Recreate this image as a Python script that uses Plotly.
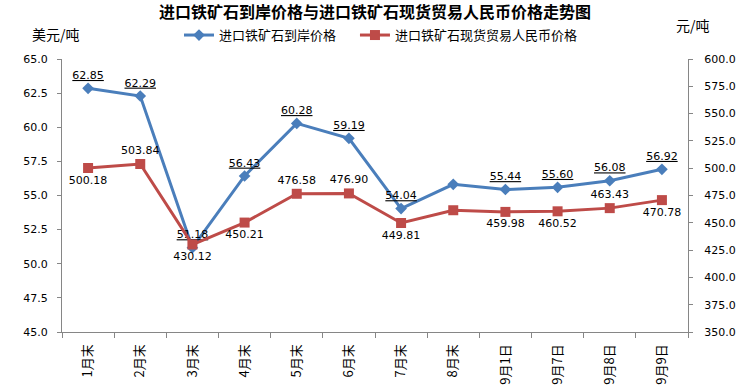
import plotly.graph_objects as go

categories = ["1月末", "2月末", "3月末", "4月末", "5月末", "6月末", "7月末", "8月末",
              "9月1日", "9月7日", "9月8日", "9月9日"]
usd_price = [62.85, 62.29, 51.18, 56.43, 60.28, 59.19, 54.04, 55.82, 55.44, 55.60, 56.08, 56.92]
rmb_price = [500.18, 503.84, 430.12, 450.21, 476.58, 476.90, 449.81, 461.5, 459.98, 460.52, 463.43, 470.78]
usd_labeled = [True] * 7 + [False] + [True] * 4
rmb_labeled = [True] * 7 + [False] + [True] * 4
rmb_label_pos = ["bottom center", "top center", "bottom center", "bottom center", "top center",
                 "top center", "bottom center", "bottom center", "bottom center", "bottom center",
                 "top center", "bottom center"]

BLUE = "#4A7EBB"
RED = "#BE4B48"
AX = "#868686"
FONT = "Noto Sans CJK SC"
NUMFONT = "DejaVu Sans"

usd_text = [f"<u>{v:.2f}</u>" if s else "" for v, s in zip(usd_price, usd_labeled)]
rmb_text = [f"{v:.2f}" if s else "" for v, s in zip(rmb_price, rmb_labeled)]

fig = go.Figure()
fig.add_trace(go.Scatter(
    x=categories, y=usd_price, name="进口铁矿石到岸价格", mode="lines+markers+text",
    legend="legend",
    line=dict(color=BLUE, width=3), marker=dict(symbol="diamond", size=9, color=BLUE),
    text=usd_text, textposition="top center",
    textfont=dict(family=NUMFONT, size=11, color="#000000"), cliponaxis=False))
fig.add_trace(go.Scatter(
    x=categories, y=rmb_price, name="进口铁矿石现货贸易人民币价格", mode="lines+markers+text",
    yaxis="y2", legend="legend2",
    line=dict(color=RED, width=3), marker=dict(symbol="square", size=10, color=RED),
    text=rmb_text, textposition=rmb_label_pos,
    textfont=dict(family=NUMFONT, size=11, color="#000000"), cliponaxis=False))

legend_common = dict(orientation="h", xanchor="left", y=1.0876, yanchor="middle",
                     font=dict(family=FONT, size=13), bgcolor="rgba(0,0,0,0)",
                     itemwidth=30)

fig.update_layout(
    width=751, height=386,
    margin=dict(l=62, r=63, t=59, b=54, autoexpand=False),
    paper_bgcolor="white", plot_bgcolor="white",
    font=dict(family=FONT, size=12, color="#000000"),
    title=dict(text="<b>进口铁矿石到岸价格与进口铁矿石现货贸易人民币价格走势图</b>",
               x=0.5, xref="paper", xanchor="center", y=0.967, yanchor="middle",
               font=dict(family=FONT, size=16, color="#000000")),
    showlegend=True,
    legend=dict(x=0.1869, **legend_common),
    legend2=dict(x=0.4680, **legend_common),
    xaxis=dict(type="category", showgrid=False, showline=True, linecolor=AX, linewidth=1,
               ticks="outside", ticklen=5, tickcolor=AX, tickson="boundaries",
               tickangle=-90, tickfont=dict(family=FONT, size=13),
               ticklabelstandoff=6, range=[-0.5, 11.5], zeroline=False),
    yaxis=dict(range=[45, 65], dtick=2.5, tickformat=".1f", showgrid=False, showline=True,
               linecolor=AX, linewidth=1, ticks="outside", ticklen=4, tickcolor=AX,
               tickfont=dict(family=NUMFONT, size=11), ticklabelstandoff=7, zeroline=False),
    yaxis2=dict(range=[350, 600], dtick=25, tickformat=".1f", showgrid=False, showline=True,
                linecolor=AX, linewidth=1, ticks="outside", ticklen=4, tickcolor=AX,
                tickfont=dict(family=NUMFONT, size=11), ticklabelstandoff=9, zeroline=False,
                overlaying="y", side="right"),
    annotations=[
        dict(text="美元/吨", xref="paper", yref="paper", x=-0.0096, y=1.092,
             xanchor="center", yanchor="middle", showarrow=False,
             font=dict(family=FONT, size=14)),
        dict(text="元/吨", xref="paper", yref="paper", x=1.008, y=1.125,
             xanchor="center", yanchor="middle", showarrow=False,
             font=dict(family=FONT, size=14)),
    ],
)

fig.write_html("out.html", config={"displayModeBar": False},
               post_script="document.body.style.margin='0px';")
